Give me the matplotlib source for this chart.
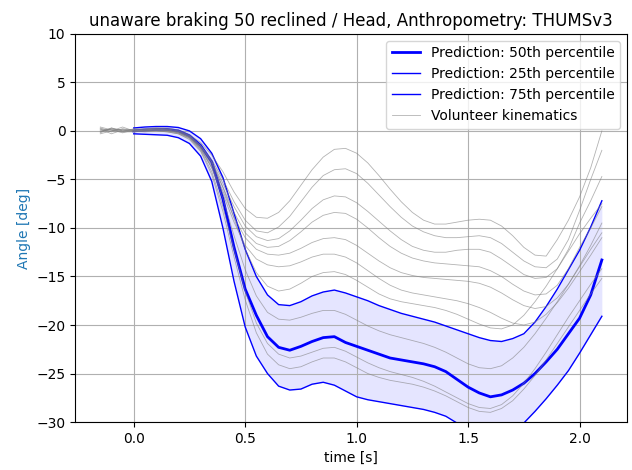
import numpy as np
import matplotlib
matplotlib.use("Agg")
import matplotlib.pyplot as plt

# prediction time base (s)
t_pred = [0.0, 0.05, 0.1, 0.15, 0.2, 0.25, 0.3, 0.35, 0.4, 0.45, 0.5, 0.55, 0.6, 0.65,
          0.7, 0.75, 0.8, 0.85, 0.9, 0.95, 1.0, 1.05, 1.1, 1.15, 1.2, 1.25, 1.3, 1.35,
          1.4, 1.45, 1.5, 1.55, 1.6, 1.65, 1.7, 1.75, 1.8, 1.85, 1.9, 1.95, 2.0, 2.05, 2.1]

p50 = [0.0, 0.1, 0.15, 0.15, 0.0, -0.5, -1.5, -3.2, -7.0, -12.0, -16.3, -19.0, -21.2, -22.3,
       -22.6, -22.2, -21.7, -21.3, -21.2, -21.8, -22.2, -22.6, -23.0, -23.4, -23.6, -23.8, -24.0, -24.3,
       -24.8, -25.6, -26.4, -27.0, -27.4, -27.2, -26.7, -26.0, -25.0, -23.8, -22.5, -20.9, -19.3, -16.9, -13.3]

p25 = [0.3, 0.4, 0.45, 0.45, 0.35, 0.0, -0.8, -2.3, -4.8, -8.5, -12.2, -15.0, -16.9, -17.9,
       -18.0, -17.6, -17.0, -16.6, -16.4, -16.7, -17.1, -17.5, -18.0, -18.4, -18.8, -19.1, -19.4, -19.7,
       -20.1, -20.5, -20.9, -21.3, -21.6, -21.7, -21.4, -20.9, -19.7, -18.1, -16.3, -14.3, -12.3, -9.9, -7.2]

p75 = [-0.3, -0.35, -0.4, -0.45, -0.7, -1.3, -2.6, -5.2, -10.0, -15.5, -20.2, -23.2, -25.0, -26.3,
       -26.7, -26.6, -26.1, -25.9, -26.2, -26.8, -27.4, -27.7, -27.9, -28.1, -28.3, -28.5, -28.7, -29.0,
       -29.4, -30.1, -30.8, -31.5, -32.0, -31.8, -31.0, -30.1, -28.9, -27.6, -26.2, -24.7, -22.9, -21.0, -19.1]

# volunteer time base (s)
t_vol = [-0.15, -0.1, -0.05] + t_pred

vol1 = [0.3, -0.1, 0.2, 0.1, 0.2, 0.3, 0.3, 0.1, -0.4,
        -1.2, -2.5, -4.2, -6.3, -8.0, -8.9, -9.0, -8.4, -7.2, -5.6, -4.0, -2.7, -1.9, -1.8, -2.3,
        -3.3, -4.6, -6.0, -7.3, -8.4, -9.2, -9.6, -9.6, -9.4, -9.2, -9.1, -9.2, -9.8, -10.8, -12.0,
        -12.8, -12.9, -11.2, -9.2, -6.8, -3.8, 0.0]
vol2 = [-0.2, 0.3, 0.0, 0.2, 0.1, 0.2, 0.2, 0.0, -0.5,
        -1.5, -3.0, -5.0, -7.3, -9.2, -10.3, -10.5, -9.9, -8.8, -7.3, -5.8, -4.6, -4.0, -3.9, -4.4,
        -5.4, -6.6, -7.8, -8.9, -9.8, -10.4, -10.8, -11.0, -11.0, -10.9, -10.8, -11.0, -11.6, -12.5, -13.4,
        -14.0, -14.1, -13.2, -11.2, -8.2, -5.0, -2.0]
vol3 = [0.1, 0.0, 0.4, 0.0, 0.1, 0.2, 0.1, -0.1, -0.6,
        -1.6, -3.2, -5.4, -7.8, -9.8, -10.9, -11.3, -11.1, -10.3, -9.2, -8.0, -7.1, -6.7, -6.8, -7.4,
        -8.3, -9.3, -10.3, -11.2, -11.9, -12.3, -12.5, -12.5, -12.3, -12.2, -12.2, -12.5, -13.2, -14.0, -14.8,
        -15.2, -15.1, -14.2, -12.2, -9.5, -7.2, -4.7]
vol4 = [0.4, 0.1, -0.2, 0.1, 0.0, 0.1, 0.1, -0.1, -0.6,
        -1.7, -3.4, -5.8, -8.4, -10.5, -11.6, -12.0, -11.9, -11.3, -10.4, -9.4, -8.7, -8.4, -8.5, -9.1,
        -10.0, -11.0, -11.9, -12.6, -13.1, -13.4, -13.6, -13.7, -13.8, -13.9, -14.0, -14.4, -15.0, -15.8, -16.5,
        -16.9, -16.8, -15.9, -14.2, -12.0, -10.0, -7.8]
vol5 = [-0.1, 0.2, 0.1, -0.1, 0.1, 0.2, 0.1, -0.2, -0.7,
        -1.8, -3.6, -6.2, -8.9, -11.0, -12.2, -12.7, -12.8, -12.6, -12.1, -11.5, -11.1, -11.0, -11.2, -11.8,
        -12.6, -13.4, -14.1, -14.6, -14.9, -15.1, -15.2, -15.3, -15.4, -15.5, -15.7, -16.1, -16.7, -17.4, -18.0,
        -18.3, -18.1, -17.2, -15.8, -13.9, -11.8, -9.5]
vol6 = [0.2, -0.3, 0.1, 0.0, 0.0, 0.1, 0.0, -0.2, -0.7,
        -1.9, -3.8, -6.5, -9.4, -11.8, -13.2, -13.8, -14.0, -13.9, -13.5, -13.0, -12.7, -12.7, -13.0, -13.6,
        -14.4, -15.2, -15.9, -16.4, -16.7, -16.9, -17.1, -17.3, -17.5, -17.8, -18.2, -18.7, -19.3, -19.8, -20.0,
        -19.7, -18.9, -17.7, -16.2, -14.5, -12.8, -11.0]
vol7 = [0.0, 0.2, -0.1, 0.2, 0.2, 0.3, 0.2, 0.0, -0.5,
        -1.5, -3.2, -5.8, -9.0, -12.2, -14.6, -16.0, -16.5, -16.3, -15.7, -15.0, -14.6, -14.5, -14.8, -15.4,
        -16.1, -16.8, -17.3, -17.6, -17.8, -18.0, -18.2, -18.5, -18.9, -19.4, -19.9, -20.3, -20.4, -20.0, -19.0,
        -17.6, -16.0, -14.2, -12.4, -10.6, -9.0, -7.5]
vol8 = [-0.3, 0.0, 0.2, 0.0, 0.1, 0.1, 0.0, -0.2, -0.7,
        -1.8, -3.8, -7.0, -10.8, -14.3, -17.0, -18.7, -19.4, -19.5, -19.2, -18.8, -18.5, -18.5, -18.9, -19.5,
        -20.1, -20.6, -21.0, -21.3, -21.6, -21.9, -22.3, -22.8, -23.4, -24.0, -24.4, -24.5, -24.2, -23.4, -22.3,
        -20.9, -19.3, -17.6, -15.8, -14.0, -12.2, -10.5]
vol9 = [0.2, 0.1, -0.1, -0.1, 0.0, 0.0, -0.1, -0.3, -0.8,
        -2.0, -4.2, -7.8, -12.2, -16.5, -19.8, -21.9, -23.0, -23.4, -23.2, -22.8, -22.4, -22.3, -22.7, -23.3,
        -23.9, -24.4, -24.8, -25.1, -25.4, -25.8, -26.3, -26.9, -27.5, -28.1, -28.5, -28.6, -28.2, -27.3, -26.0,
        -24.5, -22.8, -21.0, -19.2, -17.5, -15.8, -14.2]
vol10 = [-0.1, 0.3, 0.0, 0.0, -0.1, 0.0, -0.1, -0.3, -0.9,
         -2.1, -4.5, -8.3, -13.0, -17.4, -20.8, -23.0, -24.1, -24.5, -24.3, -23.8, -23.4, -23.4, -23.8, -24.4,
         -25.0, -25.4, -25.7, -25.9, -26.1, -26.4, -26.8, -27.3, -27.9, -28.5, -28.9, -29.0, -28.6, -27.8, -26.6,
         -25.2, -23.6, -21.9, -20.2, -18.5, -16.8, -15.2]

volunteers = [vol1, vol2, vol3, vol4, vol5, vol6, vol7, vol8, vol9, vol10]

fig, ax = plt.subplots(figsize=(6.32, 4.70), dpi=100)
fig.subplots_adjust(left=0.119, right=0.992, bottom=0.102, top=0.928)

ax.fill_between(t_pred, p25, p75, color="blue", alpha=0.1, linewidth=0)
ax.plot(t_pred, p50, color="blue", linewidth=2, label="Prediction: 50th percentile")
ax.plot(t_pred, p25, color="blue", linewidth=1, label="Prediction: 25th percentile")
ax.plot(t_pred, p75, color="blue", linewidth=1, label="Prediction: 75th percentile")
for i, v in enumerate(volunteers):
    ax.plot(t_vol, v, color="gray", linewidth=0.6, alpha=0.6,
            label="Volunteer kinematics" if i == 0 else None)

ax.set_ylim(-30, 10)
ax.grid(True)
ax.set_xlabel("time [s]")
ax.set_ylabel("Angle [deg]", color="tab:blue")
ax.set_title("unaware braking 50 reclined / Head, Anthropometry: THUMSv3")
ax.legend(loc="upper right")

fig.savefig("out.png", dpi=100)
